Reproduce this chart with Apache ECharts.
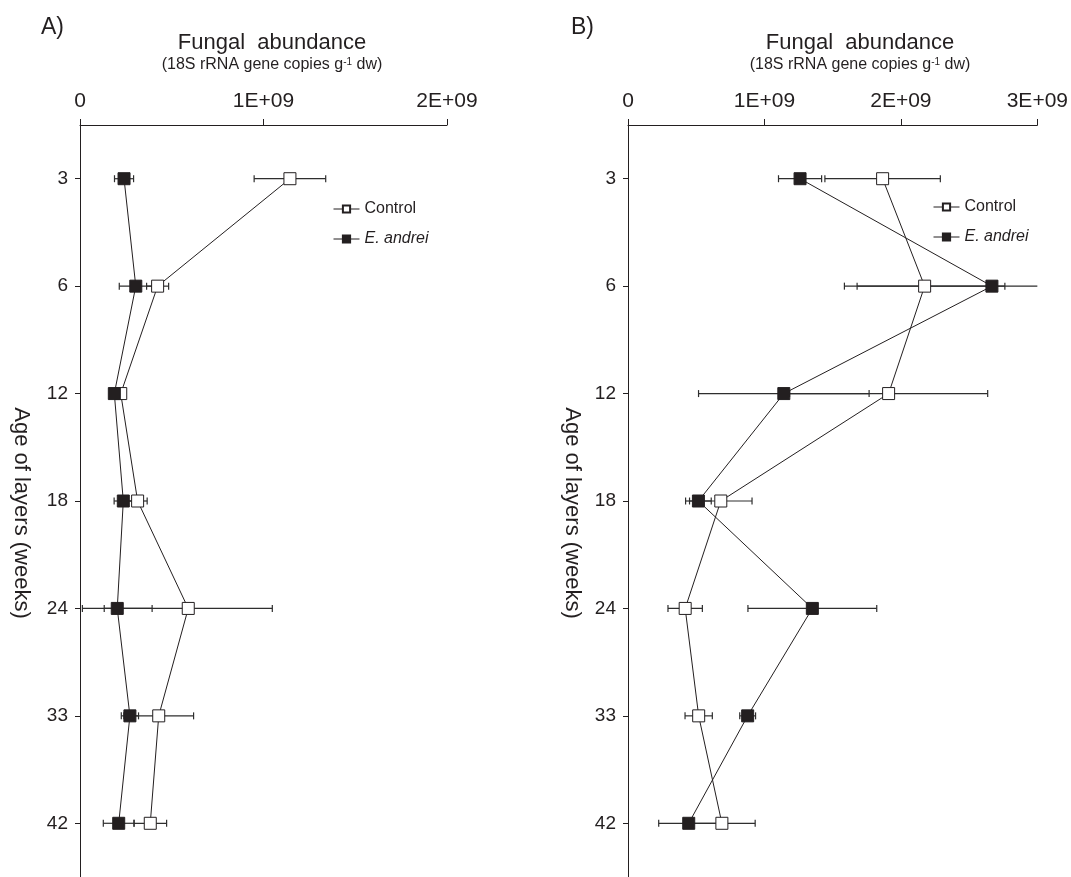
<!DOCTYPE html>
<html>
<head>
<meta charset="utf-8">
<script src="https://cdn.jsdelivr.net/npm/echarts@6/dist/echarts.min.js"></script>
<style>
html,body{margin:0;padding:0;background:#fff;}
#chart{width:1071px;height:877px;}
</style>
</head>
<body>
<div id="chart"></div>
<script>
// ---- data ----
const weeks = ['3', '6', '12', '18', '24', '33', '42'];
const xTicksA = [0, 1e9, 2e9];
const xTicksB = [0, 1e9, 2e9, 3e9];

// Panel A
const controlA    = [1.144e9, 0.423e9, 0.222e9, 0.314e9, 0.590e9, 0.429e9, 0.383e9];
const controlAErr = [0.195e9, 0.060e9, 0.020e9, 0.052e9, 0.458e9, 0.190e9, 0.089e9];
const andreiA     = [0.240e9, 0.304e9, 0.187e9, 0.236e9, 0.203e9, 0.272e9, 0.211e9];
const andreiAErr  = [0.052e9, 0.090e9, 0.020e9, 0.050e9, 0.190e9, 0.047e9, 0.084e9];

// Panel B
const controlB    = [1.866e9, 2.174e9, 1.910e9, 0.680e9, 0.419e9, 0.518e9, 0.688e9];
const controlBErr = [0.423e9, 0.588e9, 0.726e9, 0.229e9, 0.126e9, 0.100e9, 0.244e9];
const andreiB     = [1.261e9, 2.667e9, 1.142e9, 0.516e9, 1.351e9, 0.877e9, 0.445e9];
const andreiBErr  = [0.158e9, 0.988e9, 0.625e9, 0.094e9, 0.472e9, 0.058e9, 0.220e9];

// ---- chart ----
const INK = '#231f20';
const FONT = 'Liberation Sans, Arial, sans-serif';
const chart = echarts.init(document.getElementById('chart'));

function pts(vals) { return vals.map((v, i) => [v, i]); }
function errPts(vals, errs) { return vals.map((v, i) => [v, i, errs[i]]); }

function errorRender(params, api) {
  const v = api.value(0), idx = api.value(1), e = api.value(2);
  const cs = params.coordSys;
  const a = api.coord([v - e, idx]);
  const b = api.coord([v + e, idx]);
  const xl = Math.max(a[0], cs.x), xr = Math.min(b[0], cs.x + cs.width);
  const y = a[1];
  const st = { stroke: '#2e2e2e', lineWidth: 1.2 };
  const ch = [{ type: 'line', shape: { x1: xl, y1: y, x2: xr, y2: y }, style: st }];
  if (a[0] >= cs.x) ch.push({ type: 'line', shape: { x1: a[0], y1: y - 3.5, x2: a[0], y2: y + 3.5 }, style: st });
  if (b[0] <= cs.x + cs.width) ch.push({ type: 'line', shape: { x1: b[0], y1: y - 3.5, x2: b[0], y2: y + 3.5 }, style: st });
  return { type: 'group', children: ch };
}

function xAxisCfg(gi, max) {
  return {
    gridIndex: gi, type: 'value', position: 'top', min: 0, max: max, interval: 1e9,
    axisLine: { show: true, lineStyle: { color: INK, width: 1 } },
    axisTick: { show: true, length: 6, lineStyle: { color: INK } },
    splitLine: { show: false },
    axisLabel: {
      margin: 13, fontSize: 21, color: INK, fontFamily: FONT,
      formatter: v => v === 0 ? '0' : (Math.round(v / 1e9) + 'E+09')
    }
  };
}
function yAxisCfg(gi, gap) {
  return {
    gridIndex: gi, type: 'category', data: weeks, inverse: true, boundaryGap: true,
    name: 'Age of layers (weeks)', nameLocation: 'middle', nameRotate: -90, nameGap: gap,
    nameTextStyle: { fontSize: 22, color: INK, fontFamily: FONT, padding: [0, 0, 0, 24] },
    axisLine: { show: true, lineStyle: { color: INK, width: 1 } },
    axisTick: { show: true, alignWithLabel: true, length: 5, lineStyle: { color: INK } },
    axisLabel: { margin: 12, fontSize: 19, color: INK, fontFamily: FONT }
  };
}
function lineSeries(name, data, xi, filled) {
  return {
    name: name, type: 'line', xAxisIndex: xi, yAxisIndex: xi, data: data,
    symbol: 'rect', symbolSize: 12, z: 3,
    lineStyle: { color: INK, width: 1 },
    itemStyle: { color: filled ? INK : '#ffffff', borderColor: INK, borderWidth: 1 },
    emphasis: { disabled: true }, animation: false
  };
}
function errSeries(data, xi) {
  return {
    type: 'custom', xAxisIndex: xi, yAxisIndex: xi, data: data,
    renderItem: errorRender, encode: { x: 0, y: 1 }, z: 1, animation: false, silent: true
  };
}
function legendCfg(left, top) {
  return {
    left: left, top: top, orient: 'vertical', itemWidth: 26, itemHeight: 9, itemGap: 14,
    data: ['Control', 'E. andrei'],
    lineStyle: { width: 1 },
    formatter: n => n === 'E. andrei' ? '{i|E. andrei}' : n,
    textStyle: { fontSize: 16, color: INK, fontFamily: FONT,
      rich: { i: { fontSize: 16, fontStyle: 'italic', color: INK, fontFamily: FONT } } }
  };
}
function titleSet(letter, lx, cx) {
  return [
    { text: letter, left: lx, top: 11, textStyle: { fontSize: 23, fontWeight: 'normal', color: INK, fontFamily: FONT } },
    { text: 'Fungal  abundance', left: cx, top: 27, textAlign: 'center',
      textStyle: { fontSize: 22, fontWeight: 'normal', color: INK, fontFamily: FONT } },
    { text: '(18S rRNA gene copies g{sup|-1} dw)', left: cx, top: 52, textAlign: 'center',
      textStyle: { fontSize: 16, fontWeight: 'normal', color: INK, fontFamily: FONT,
        rich: { sup: { fontSize: 10, color: INK, fontFamily: FONT, verticalAlign: 'top', lineHeight: 12, padding: [0, 0, 8, 0] } } } }
  ];
}

const option = {
  backgroundColor: '#ffffff',
  animation: false,
  title: titleSet('A)', 36, 267).concat(titleSet('B)', 566, 855)),
  legend: [legendCfg(328, 196), legendCfg(928, 194)],
  grid: [
    { left: 80, top: 125, width: 367, height: 752, containLabel: false },
    { left: 628, top: 125, width: 413, height: 752, containLabel: false }
  ],
  xAxis: [xAxisCfg(0, 2e9), xAxisCfg(1, 3e9)],
  yAxis: [yAxisCfg(0, 48), yAxisCfg(1, 45)],
  series: [
    errSeries(errPts(controlA, controlAErr), 0),
    errSeries(errPts(andreiA, andreiAErr), 0),
    lineSeries('Control', pts(controlA), 0, false),
    lineSeries('E. andrei', pts(andreiA), 0, true),
    errSeries(errPts(controlB, controlBErr), 1),
    errSeries(errPts(andreiB, andreiBErr), 1),
    lineSeries('Control', pts(controlB), 1, false),
    lineSeries('E. andrei', pts(andreiB), 1, true)
  ]
};
chart.setOption(option);
</script>
</body>
</html>
